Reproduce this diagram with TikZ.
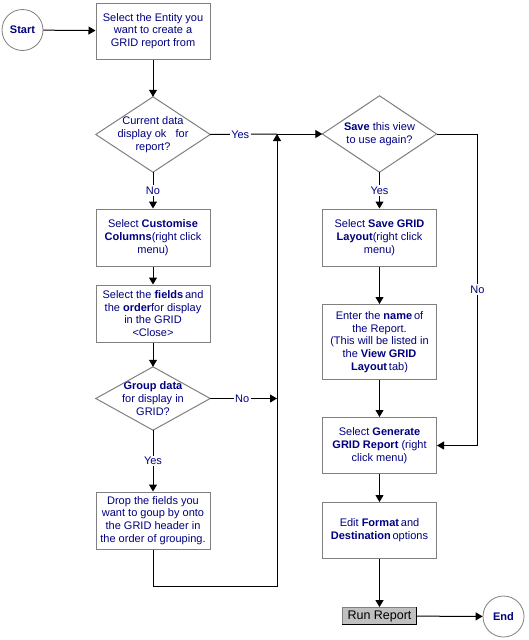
\documentclass[tikz,border=0pt]{standalone}
\usepackage{fontspec}
\setmainfont{Liberation Sans}
\usetikzlibrary{arrows.meta}
\definecolor{navytext}{RGB}{0,0,128}
\definecolor{edgegray}{RGB}{128,128,128}
\definecolor{buttongray}{RGB}{192,192,192}

\begin{document}
\begin{tikzpicture}[x=1pt,y=-1pt,
    box/.style={draw=edgegray, line width=1pt, minimum width=114pt, minimum height=56pt, inner sep=1pt, align=center, text=navytext, font=\fontsize{11}{12.8}\selectfont},
    decision/.style={minimum width=114pt, minimum height=75pt, inner sep=0pt, align=center, text=navytext, font=\fontsize{11}{12.8}\selectfont},
    terminal/.style={circle, draw=edgegray, line width=0.8pt, minimum size=41pt, inner sep=0pt, text=navytext, font=\bfseries\fontsize{11}{12}\selectfont},
    flow/.style={line width=1pt, -{Triangle[length=7pt,width=8pt]}},
    plain/.style={line width=1pt},
    answer/.style={fill=white, text=navytext, inner sep=1.5pt, font=\fontsize{11}{12}\selectfont}]

    % Background and frame
    \fill[white] (0,0) rectangle (528,640);
    \useasboundingbox (0,0) rectangle (528,640);

    % Left column
    \node[terminal] (start) at (22.5,30) {Start};
    \node[box] (entity) at (153,31) {Select the Entity you\\want to create a\\GRID report from};
    \node[decision] (current) at (153,134.5) {Current data\\display ok~~~for\\report?};
    \node[box, minimum height=57pt] (customise) at (153,237.5) {Select \textbf{Customise}\\\textbf{Columns}(right click\\menu)};
    \node[box, minimum height=57pt] (fields) at (153,313.5) {Select the \textbf{fields}\,and\\the \textbf{order}for display\\in the GRID\\<Close>};
    \node[decision, minimum height=63pt] (group) at (153,398.5) {\textbf{Group data}\\for display in\\GRID?};
    \node[box, minimum height=57pt] (drop) at (153,520.5) {Drop the fields you\\want to goup by onto\\the GRID header in\\the order of grouping.};

    % Right column
    \node[decision, minimum height=76pt] (saveview) at (379.5,134) {\textbf{Save} this view\\to use again?};
    \node[box, minimum height=57pt] (savelayout) at (379.5,237.5) {Select \textbf{Save GRID}\\\textbf{Layout}(right click\\menu)};
    \node[box, minimum height=75pt] (name) at (379.5,342) {Enter the \textbf{name}\,of\\the Report.\\(This will be listed in\\the \textbf{View GRID}\\\textbf{Layout}\,tab)};
    \node[box] (generate) at (379.5,445.5) {Select \textbf{Generate}\\\textbf{GRID Report} (right\\click menu)};
    \node[box] (format) at (379.5,530.5) {Edit \textbf{Format}\,and\\\textbf{Destination}\,options};
    \node[fill=buttongray, draw=edgegray, line width=0.8pt, minimum width=74pt, minimum height=17pt, inner sep=0pt, font=\fontsize{12.5}{14}\selectfont] (run) at (379.5,616) {Run Report};
    \node[terminal] (finish) at (503.5,616.5) {End};

    % Diamonds
    \foreach \d in {current,group,saveview}
        \draw[edgegray, line width=1pt] (\d.north) -- (\d.east) -- (\d.south) -- (\d.west) -- cycle;

    % Button edge
    \draw[line width=1pt] (run.south west) -- (run.south east) -- (run.north east);

    % Join points
    \coordinate (join) at (277,134);
    \coordinate (loopback) at (277,586);
    \coordinate (skip) at (477.5,445.5);

    % Connectors
    \draw[flow] (start) -- (entity);
    \draw[flow] (entity) -- (current.north);
    \draw[plain] (current.east) -- (join) node[answer, pos=0.45] {Yes};
    \draw[flow] (current.south) -- (customise) node[answer, midway] {No};
    \draw[flow] (customise) -- (fields);
    \draw[flow] (fields) -- (group.north);
    \draw[flow] (group.east) -- (group.east -| join) node[answer, pos=0.48] {No};
    \draw[flow] (group.south) -- (drop) node[answer, midway] {Yes};
    \draw[flow] (drop) |- (loopback) -- (join);
    \draw[flow] (join) -- (saveview.west);
    \draw[flow] (saveview.south) -- (savelayout) node[answer, midway] {Yes};
    \draw[flow] (saveview.east) -| (skip) node[answer, pos=0.75] {No} -- (generate);
    \draw[flow] (savelayout) -- (name);
    \draw[flow] (name) -- (generate);
    \draw[flow] (generate) -- (format);
    \draw[flow] (format) -- (run);
    \draw[flow] (run) -- (finish);
\end{tikzpicture}
\end{document}
